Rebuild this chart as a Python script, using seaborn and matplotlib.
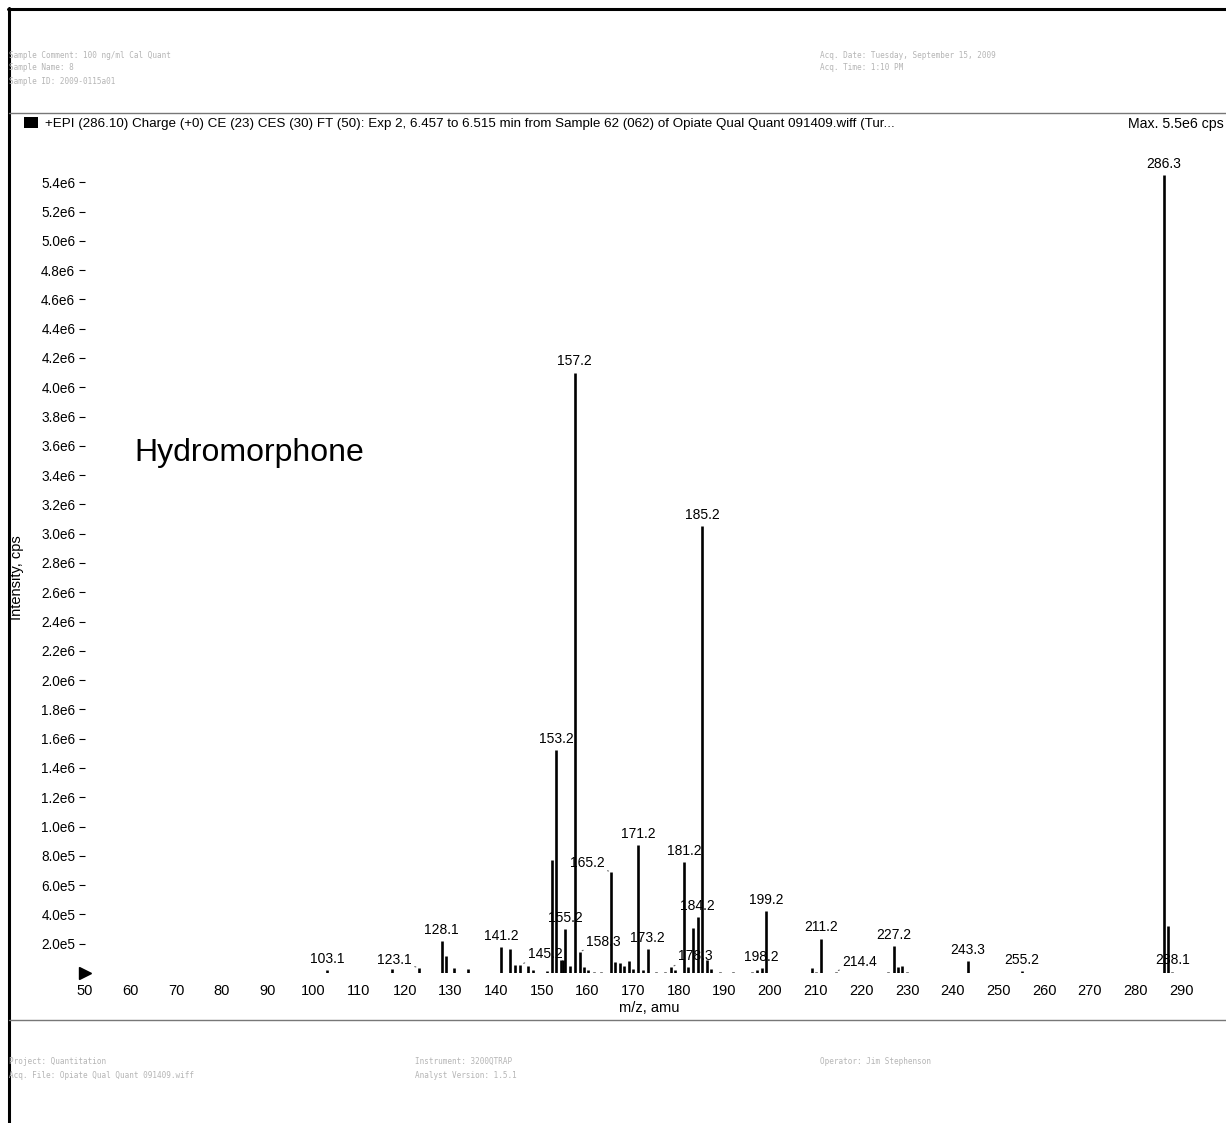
import numpy as np
import pandas as pd
import seaborn as sns
import matplotlib
matplotlib.use("Agg")
import matplotlib.pyplot as plt
from matplotlib.lines import Line2D
from matplotlib.patches import Rectangle
from matplotlib.ticker import FuncFormatter

# ---------------- data ----------------
mz = [103.1, 117.2, 123.1, 128.1, 129.0, 130.9, 133.9,
      141.2, 143.1, 144.2, 145.2, 146.9, 148.1, 151.2,
      152.2, 153.2, 154.2, 154.6, 155.2, 156.1, 157.2, 158.3, 159.2, 160.2, 161.5, 163.0,
      165.2, 166.1, 167.1, 168.1, 169.1, 170.1, 171.2, 172.1, 173.2, 175.0, 177.1,
      178.3, 179.1, 181.2, 182.1, 183.2, 184.2, 185.2, 186.2, 187.1, 189.0, 192.0,
      196.0, 197.1, 198.2, 199.2, 209.1, 210.1, 211.2, 214.4, 225.9, 227.2, 228.1,
      228.9, 229.9, 243.3, 255.2, 286.3, 287.2, 288.1]
intensity = [2.0e4, 3.0e4, 3.5e4, 2.2e5, 1.15e5, 3.5e4, 3.0e4,
             1.75e5, 1.65e5, 5.5e4, 5.5e4, 4.5e4, 2.0e4, 1.5e4,
             7.7e5, 1.52e6, 9.0e4, 9.0e4, 3.0e5, 5.0e4, 4.10e6, 1.45e5, 4.0e4, 2.0e4, 1.0e4, 1.0e4,
             6.9e5, 7.5e4, 7.0e4, 4.5e4, 8.0e4, 3.0e4, 8.75e5, 2.0e4, 1.65e5, 1.0e4, 1.0e4,
             4.0e4, 2.0e4, 7.6e5, 4.0e4, 3.1e5, 3.8e5, 3.05e6, 9.0e4, 2.5e4, 1.0e4, 1.0e4,
             1.0e4, 2.0e4, 3.5e4, 4.2e5, 3.5e4, 1.0e4, 2.35e5, 1.0e4, 1.0e4, 1.85e5, 4.0e4,
             5.0e4, 1.0e4, 8.0e4, 1.2e4, 5.45e6, 3.2e5, 1.0e4]

labeled_mz = [103.1, 123.1, 128.1, 141.2, 145.2, 153.2, 155.2, 157.2, 158.3, 165.2,
              171.2, 173.2, 178.3, 181.2, 184.2, 185.2, 198.2, 199.2, 211.2, 214.4,
              227.2, 243.3, 255.2, 286.3, 288.1]

# displaced labels (label anchor in data coords) with dotted leaders
label_moved = {123.1: (117.7, 4.0e4), 145.2: (150.8, 8.0e4), 158.3: (163.6, 1.65e5),
               165.2: (159.9, 7.0e5), 178.3: (183.7, 6.5e4), 214.4: (219.7, 3.0e4)}

x_ticks = list(range(50, 300, 10))
y_ticks = [i * 2.0e5 for i in range(1, 28)]

title_text = ("+EPI (286.10) Charge (+0) CE (23) CES (30) FT (50): Exp 2, 6.457 to 6.515 min "
              "from Sample 62 (062) of Opiate Qual Quant 091409.wiff (Tur...")
max_text = "Max. 5.5e6 cps"
compound = "Hydromorphone"
header_left = ["Sample Comment: 100 ng/ml Cal Quant", "Sample Name: 8", "Sample ID: 2009-0115a01"]
header_right = ["Acq. Date: Tuesday, September 15, 2009", "Acq. Time: 1:10 PM"]
footer_cols = [["Project: Quantitation", "Acq. File: Opiate Qual Quant 091409.wiff"],
               ["Instrument: 3200QTRAP", "Analyst Version: 1.5.1"],
               ["Operator: Jim Stephenson"]]

# ---------------- style ----------------
sns.set_theme(style="white")
FONT = ["Liberation Sans", "DejaVu Sans"]
plt.rcParams["font.family"] = FONT
plt.rcParams["text.color"] = "black"
plt.rcParams["axes.labelcolor"] = "black"
plt.rcParams["xtick.color"] = "black"
plt.rcParams["ytick.color"] = "black"

W, H = 1226, 1123
fig = plt.figure(figsize=(W / 100, H / 100), dpi=100)
fig.patch.set_facecolor("white")

def fx(px):
    return px / W

def fy(py):
    return 1 - py / H

ax = fig.add_axes([fx(85), fy(973), fx(1213) - fx(85), fy(150) - fy(973)])
ax.set_facecolor("white")

df = pd.DataFrame({"mz": mz, "intensity": intensity})
ax.vlines(df["mz"], 0, df["intensity"], color="black", linewidth=1.9)

ax.set_xlim(50, 297)
ax.set_ylim(0, 5.62e6)

for m in labeled_mz:
    h = df.loc[np.isclose(df["mz"], m), "intensity"].iloc[0]
    txt = f"{m:.1f}"
    if m in label_moved:
        tx, ty = label_moved[m]
        ax.annotate(txt, xy=(m, h), xytext=(tx, ty), textcoords="data",
                    ha="center", va="bottom", fontsize=10,
                    arrowprops=dict(arrowstyle="-", linestyle=":", color="#666666",
                                    lw=0.8, shrinkA=0, shrinkB=2))
    else:
        ax.annotate(txt, xy=(m, h), xytext=(0, 3), textcoords="offset points",
                    ha="center", va="bottom", fontsize=10)

ax.text(60.9, 3.55e6, compound, ha="left", va="center", fontsize=23)

for s in ax.spines.values():
    s.set_visible(False)

ax.set_xticks(x_ticks)
ax.set_xticks(np.arange(55, 297, 5), minor=True)
ax.set_yticks(y_ticks)

def yfmt(v, pos):
    e = int(np.floor(np.log10(v)))
    return f"{v / 10**e:.1f}e{e}"

ax.yaxis.set_major_formatter(FuncFormatter(yfmt))
ax.tick_params(axis="x", which="major", length=0, pad=8, labelsize=10.5)
ax.tick_params(axis="x", which="minor", length=1.5, width=1, color="#444444", direction="out")
ax.tick_params(axis="y", which="major", length=4, width=0.8, direction="out", pad=3,
               labelsize=9.8, left=True)
ax.plot([50], [0], marker=">", markersize=8, color="black", clip_on=False)

ax.set_xlabel("m/z, amu", fontsize=10.5, labelpad=2)
ax.set_ylabel("Intensity, cps", fontsize=10.5)
ax.yaxis.set_label_coords(-0.054, 0.48)

# ---------------- page frame / header / footer ----------------
fig.add_artist(Line2D([fx(9), fx(9)], [fy(8), 0], color="black", lw=2.2))
fig.add_artist(Line2D([fx(8), 1], [fy(8.5), fy(8.5)], color="black", lw=2.2))
fig.add_artist(Line2D([fx(9), 1], [fy(113), fy(113)], color="#777777", lw=1))
fig.add_artist(Line2D([fx(9), 1], [fy(1020), fy(1020)], color="#777777", lw=1))

fig.add_artist(Rectangle((fx(24), fy(128)), fx(14), fy(117) - fy(128),
                         facecolor="black", edgecolor="none"))
fig.text(fx(45), fy(124), title_text, ha="left", va="center", fontsize=9.6)
fig.text(fx(1224), fy(124), max_text, ha="right", va="center", fontsize=10.2)

grey = "#b5b5b5"
mono = ["DejaVu Sans Mono", "DejaVu Sans"]
for i, t in enumerate(header_left):
    fig.text(fx(9), fy([55, 67, 82][i]), t, ha="left", va="center", fontsize=5.5,
             color=grey, family=mono)
for i, t in enumerate(header_right):
    fig.text(fx(820), fy([55, 67][i]), t, ha="left", va="center", fontsize=5.5,
             color=grey, family=mono)
for xpx, col in zip([9, 415, 820], footer_cols):
    for j, t in enumerate(col):
        fig.text(fx(xpx), fy([1061, 1076][j]), t, ha="left", va="center", fontsize=5.5,
                 color=grey, family=mono)

fig.savefig("out.png", dpi=100, facecolor="white")
